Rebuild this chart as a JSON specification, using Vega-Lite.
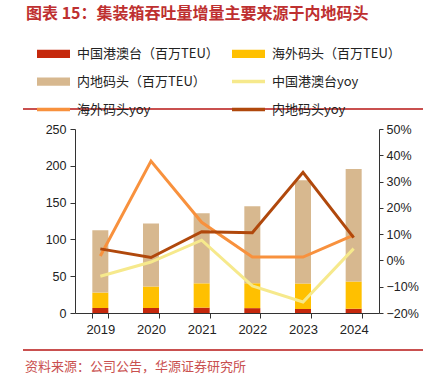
{
  "$schema": "https://vega.github.io/schema/vega-lite/v6.json",
  "padding": {"left": 23, "right": 12, "top": 6, "bottom": 10},
  "background": "white",
  "title": {"text": "图表 15：集装箱吞吐量增量主要来源于内地码头", "anchor": "start", "font": "Noto Sans CJK SC", "fontSize": 16, "fontWeight": "bold", "color": "#BE3030", "offset": 2, "dx": 3},
  "config": {"view": {"stroke": null}, "font": "Liberation Sans"},
  "datasets": {
    "bars": [
      {"year": "2019", "series": "中国港澳台（百万TEU）", "value": 6.8},
      {"year": "2019", "series": "海外码头（百万TEU）", "value": 21.0},
      {"year": "2019", "series": "内地码头（百万TEU）", "value": 84.7},
      {"year": "2020", "series": "中国港澳台（百万TEU）", "value": 6.8},
      {"year": "2020", "series": "海外码头（百万TEU）", "value": 29.1},
      {"year": "2020", "series": "内地码头（百万TEU）", "value": 85.7},
      {"year": "2021", "series": "中国港澳台（百万TEU）", "value": 7.3},
      {"year": "2021", "series": "海外码头（百万TEU）", "value": 33.0},
      {"year": "2021", "series": "内地码头（百万TEU）", "value": 95.3},
      {"year": "2022", "series": "中国港澳台（百万TEU）", "value": 6.6},
      {"year": "2022", "series": "海外码头（百万TEU）", "value": 33.8},
      {"year": "2022", "series": "内地码头（百万TEU）", "value": 104.8},
      {"year": "2023", "series": "中国港澳台（百万TEU）", "value": 5.5},
      {"year": "2023", "series": "海外码头（百万TEU）", "value": 34.5},
      {"year": "2023", "series": "内地码头（百万TEU）", "value": 140.5},
      {"year": "2024", "series": "中国港澳台（百万TEU）", "value": 5.8},
      {"year": "2024", "series": "海外码头（百万TEU）", "value": 36.9},
      {"year": "2024", "series": "内地码头（百万TEU）", "value": 152.8}
    ],
    "yoy": [
      {"year": "2019", "series": "中国港澳台yoy", "yoy": -0.060},
      {"year": "2020", "series": "中国港澳台yoy", "yoy": -0.006},
      {"year": "2021", "series": "中国港澳台yoy", "yoy": 0.077},
      {"year": "2022", "series": "中国港澳台yoy", "yoy": -0.097},
      {"year": "2023", "series": "中国港澳台yoy", "yoy": -0.158},
      {"year": "2024", "series": "中国港澳台yoy", "yoy": 0.045},
      {"year": "2019", "series": "海外码头yoy", "yoy": 0.017},
      {"year": "2020", "series": "海外码头yoy", "yoy": 0.378},
      {"year": "2021", "series": "海外码头yoy", "yoy": 0.145},
      {"year": "2022", "series": "海外码头yoy", "yoy": 0.013},
      {"year": "2023", "series": "海外码头yoy", "yoy": 0.013},
      {"year": "2024", "series": "海外码头yoy", "yoy": 0.096},
      {"year": "2019", "series": "内地码头yoy", "yoy": 0.044},
      {"year": "2020", "series": "内地码头yoy", "yoy": 0.011},
      {"year": "2021", "series": "内地码头yoy", "yoy": 0.109},
      {"year": "2022", "series": "内地码头yoy", "yoy": 0.105},
      {"year": "2023", "series": "内地码头yoy", "yoy": 0.335},
      {"year": "2024", "series": "内地码头yoy", "yoy": 0.087}
    ]
  },
  "spacing": 13,
  "vconcat": [
    {
      "width": 400, "height": 2,
      "data": {"values": [{}]},
      "mark": {"type": "rect", "color": "#C9504F"},
      "encoding": {}
    },
    {
      "width": 400, "height": 184,
      "layer": [
        {
          "data": {"name": "bars"},
          "mark": {"type": "bar"},
          "encoding": {
            "x": {"field": "year", "type": "ordinal",
              "scale": {"range": [52, 356], "paddingInner": 0.684, "paddingOuter": 0.342},
              "axis": {"title": null, "labelAngle": 0, "tickBand": "extent", "labelFontSize": 13, "labelColor": "#222", "domainColor": "#333", "tickColor": "#333", "tickSize": 5, "labelPadding": 5, "grid": false}},
            "y": {"field": "value", "type": "quantitative", "stack": "zero",
              "scale": {"domain": [0, 250]},
              "axis": {"orient": "left", "offset": -52, "values": [0, 50, 100, 150, 200, 250], "title": null, "grid": false, "labelFontSize": 12.5, "labelColor": "#222", "domainColor": "#333", "tickColor": "#333", "tickSize": 5, "labelPadding": 4}},
            "order": {"field": "value", "type": "quantitative", "sort": "ascending"},
            "color": {"field": "series", "type": "nominal",
              "scale": {
                "domain": ["中国港澳台（百万TEU）", "海外码头（百万TEU）", "内地码头（百万TEU）", "中国港澳台yoy", "海外码头yoy", "内地码头yoy"],
                "range": ["#C5280C", "#FFC000", "#D7B88F", "#F6E98C", "#F8913D", "#B0480C"]
              },
              "legend": {
                "orient": "none", "direction": "horizontal", "legendX": 1, "legendY": -84, "padding": 13, "title": null, "columns": 2,
                "columnPadding": 13, "rowPadding": 4, "labelFont": "Noto Sans CJK SC", "labelFontSize": 13, "labelColor": "#222",
                "symbolSize": 1089, "labelOffset": 7,
                "encode": {"symbols": {"update": {
                  "shape": {"signal": "indexof(datum.value, 'yoy') >= 0 ? 'M-1,-0.1H1V0.1H-1Z' : 'M-1,-0.25H1V0.25H-1Z'"},
                  "fill": {"signal": "scale('color', datum.value)"},
                  "stroke": {"value": "transparent"},
                  "strokeWidth": {"value": 0},
                  "opacity": {"value": 1},
                  "fillOpacity": {"value": 1}
                }}}
              }}
          }
        },
        {
          "data": {"name": "yoy"},
          "mark": {"type": "line", "strokeWidth": 3},
          "encoding": {
            "x": {"field": "year", "type": "ordinal"},
            "y": {"field": "yoy", "type": "quantitative",
              "scale": {"domain": [-0.2, 0.5]},
              "axis": {"orient": "right", "offset": -44, "values": [-0.2, -0.1, 0, 0.1, 0.2, 0.3, 0.4, 0.5], "format": ".0%", "title": null, "grid": false, "labelFontSize": 12.5, "labelColor": "#222", "domainColor": "#333", "tickColor": "#333", "tickSize": 4, "labelPadding": 3}},
            "color": {"field": "series", "type": "nominal"}
          }
        }
      ],
      "resolve": {"scale": {"y": "independent"}}
    },
    {
      "width": 400, "height": 2,
      "data": {"values": [{}]},
      "mark": {"type": "rect", "color": "#C9504F"},
      "encoding": {},
      "title": {"text": "资料来源：公司公告，华源证券研究所", "orient": "bottom", "anchor": "start", "font": "Noto Sans CJK SC", "fontSize": 13, "fontWeight": "normal", "color": "#C9504F", "offset": 10, "dx": 2}
    }
  ]
}
